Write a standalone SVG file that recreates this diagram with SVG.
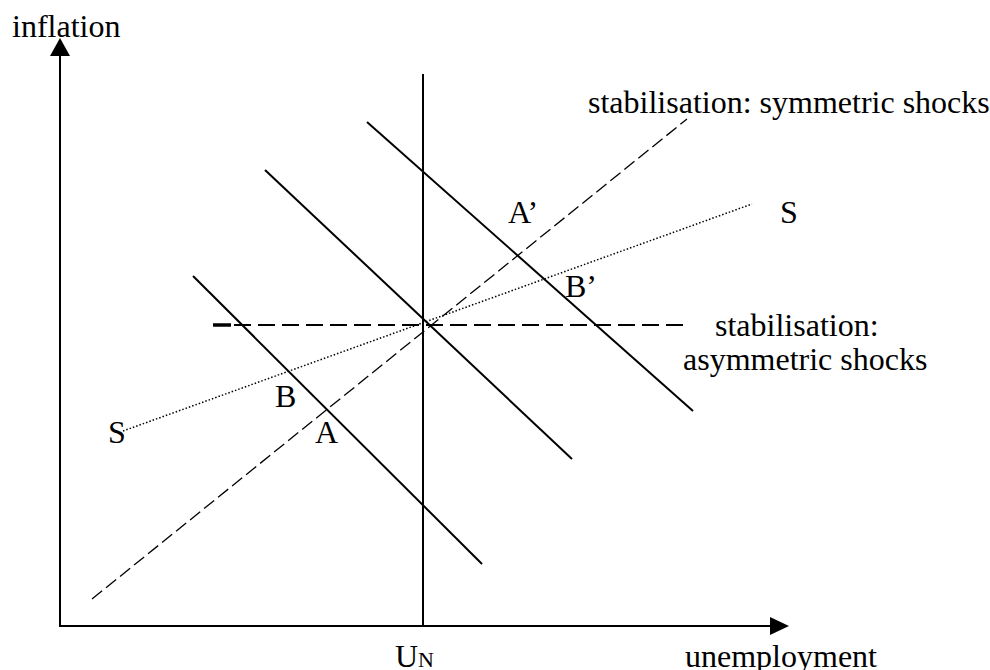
<svg xmlns="http://www.w3.org/2000/svg" width="990" height="670" viewBox="0 0 990 670">
<style>
text{font-family:"Liberation Serif","Times New Roman",serif;font-size:32px;fill:#000}
.solid{stroke:#000;stroke-width:2;fill:none}
.axis{stroke:#000;stroke-width:2;fill:none}
.hdash{stroke:#000;stroke-width:2;stroke-dasharray:17 7;fill:none}
.sdash{stroke:#000;stroke-width:1.3;stroke-dasharray:13 5;fill:none}
.dot{stroke:#000;stroke-width:1.5;stroke-dasharray:1.5 2;fill:none}
</style>
<rect width="990" height="670" fill="#fff"/>
<g id="axes">
<line class="axis" x1="60" y1="54" x2="60" y2="627"/>
<line class="axis" x1="59" y1="626" x2="772" y2="626"/>
<polygon points="60,38 50,56 70,56" fill="#000"/>
<polygon points="789,626 770,617 770,635" fill="#000"/>
</g>
<g id="connectors">
<line class="solid" x1="423" y1="74" x2="423" y2="626"/>
<line class="solid" x1="193" y1="276" x2="482" y2="564"/>
<line class="solid" x1="265" y1="170" x2="572" y2="459"/>
<line class="solid" x1="367" y1="122" x2="693" y2="411"/>
<line x1="213" y1="325" x2="231" y2="325" stroke="#000" stroke-width="3.5"/>
<line class="hdash" x1="234" y1="325" x2="690" y2="325"/>
<line class="sdash" x1="92" y1="599" x2="687" y2="119"/>
<line class="dot" x1="123" y1="431" x2="752" y2="204"/>
</g>
<g id="labels">
<text x="12" y="37">inflation</text>
<text x="395" y="667">U<tspan font-size="22" dy="0">N</tspan></text>
<text x="685" y="667">unemployment</text>
<text x="588" y="113">stabilisation: symmetric shocks</text>
<text x="715" y="336">stabilisation:</text>
<text x="683" y="370">asymmetric shocks</text>
<text x="780" y="223">S</text>
<text x="108" y="443">S</text>
<text x="508" y="223">A’</text>
<text x="565" y="297">B’</text>
<text x="275" y="407">B</text>
<text x="315" y="443">A</text>
</g>
</svg>
